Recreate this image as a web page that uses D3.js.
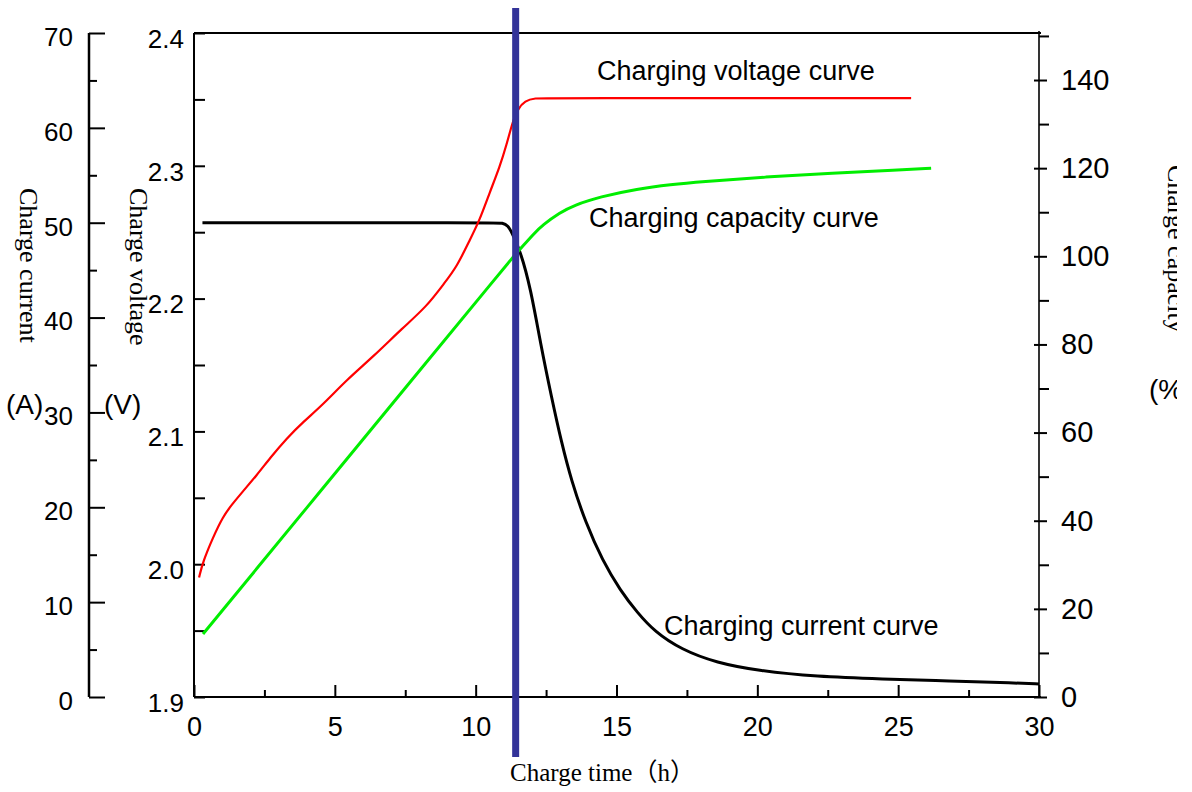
<!DOCTYPE html>
<html>
<head>
<meta charset="utf-8">
<script src="https://cdn.jsdelivr.net/npm/d3@7"></script>
<style>
  html, body { margin: 0; padding: 0; background: #fff; }
  svg { display: block; }
  .tick text { font-family: "Liberation Sans", Arial, sans-serif; fill: #000; }
</style>
</head>
<body>
<svg id="chart" width="1192" height="792"></svg>
<script>
// Dades llegides de la figura
const timeTicks = [0, 5, 10, 15, 20, 25, 30];
const timeMinor = [2.5, 7.5, 12.5, 17.5, 22.5, 27.5];
const currentTicks = [0, 10, 20, 30, 40, 50, 60, 70];
const currentMinor = [5, 15, 25, 35, 45, 55, 65];
const voltageTicks = [1.9, 2.0, 2.1, 2.2, 2.3, 2.4];
const voltageMinor = [1.95, 2.05, 2.15, 2.25, 2.35];
const capacityTicks = [0, 20, 40, 60, 80, 100, 120, 140];
const capacityMinor = [10, 30, 50, 70, 90, 110, 130, 150];

// [temps (h), tensió (V)]
const voltageCurve = [
  [0.18, 1.990], [0.32, 2.002], [0.67, 2.020], [1.03, 2.036], [1.35, 2.045],
  [1.70, 2.054], [2.23, 2.067], [2.70, 2.080], [3.30, 2.095], [3.87, 2.107],
  [4.57, 2.120], [5.43, 2.139], [6.35, 2.156], [7.41, 2.178], [8.26, 2.194],
  [8.90, 2.212], [9.33, 2.224], [9.79, 2.244], [10.14, 2.259], [10.50, 2.280],
  [10.85, 2.299], [11.10, 2.316], [11.31, 2.333], [11.50, 2.343], [11.75, 2.349],
  [12.10, 2.351], [12.60, 2.351], [25.46, 2.351]
];
// [temps (h), corrent (A)]
const currentCurve = [
  [0.30, 50], [10.70, 50], [10.95, 50], [11.15, 49.7], [11.28, 49.0], [11.59, 47.0],
  [11.95, 43.1], [12.30, 37.3], [12.70, 31.5], [13.05, 26.8], [13.40, 22.8],
  [13.90, 18.4], [14.50, 14.4], [15.14, 11.2], [15.74, 8.9], [16.35, 6.9],
  [17.30, 5.0], [18.55, 3.6], [20.07, 2.75], [22.09, 2.15], [24.43, 1.9],
  [26.81, 1.7], [29.18, 1.48], [30.0, 1.37]
];
// [temps (h), capacitat (%)]
const capacityCurve = [
  [0.32, 14.3], [4.00, 42.9], [7.73, 71.9], [11.00, 97.3], [11.31, 99.7], [11.67, 102.3],
  [12.06, 105.1], [12.38, 107.1], [12.98, 109.9], [13.50, 111.6], [14.40, 113.5],
  [15.74, 115.3], [16.95, 116.3], [17.94, 116.9], [20.30, 118.0], [22.66, 118.9],
  [25.00, 119.6], [26.17, 120.0]
];
const switchTime = 11.42; // línia vertical blava

const svg = d3.select("#chart");
const sans = '"Liberation Sans", Arial, sans-serif';
const serif = '"Liberation Serif", "Times New Roman", "Noto Sans CJK SC", serif';

const plotTop = 33, plotBottom = 697;
const x = d3.scaleLinear().domain([0, 30]).range([194, 1039]);
const yV = d3.scaleLinear().domain([1.9, 2.4]).range([plotBottom, plotTop]);
const yA = d3.scaleLinear().domain([0, 70]).range([plotBottom, plotTop]);
const yC = d3.scaleLinear().domain([0, 150]).range([plotBottom, plotBottom - 150 * 4.407]);

function styleAxis(g, size) {
  g.select(".domain").remove();
  g.selectAll(".tick line").attr("stroke", "#000").attr("stroke-width", 2);
  g.selectAll(".tick text").style("font-size", size + "px");
}

// Eix del corrent (esquerra)
const axA = svg.append("g").attr("transform", "translate(89,0)");
axA.append("g")
   .call(d3.axisLeft(yA).tickValues(currentMinor).tickSizeInner(-8).tickSizeOuter(0).tickFormat(""))
   .call(g => styleAxis(g, 26));
axA.append("g")
   .call(d3.axisLeft(yA).tickValues(currentTicks).tickSizeInner(-16).tickSizeOuter(0).tickPadding(16))
   .call(g => styleAxis(g, 26))
   .selectAll(".tick text").attr("transform", "translate(0,4)");
axA.append("line").attr("y1", plotTop).attr("y2", plotBottom).attr("stroke", "#000").attr("stroke-width", 2.5);

// Eix de la tensió
const axV = svg.append("g").attr("transform", "translate(194,0)");
axV.append("g")
   .call(d3.axisLeft(yV).tickValues(voltageMinor).tickSizeInner(-11).tickSizeOuter(0).tickFormat(""))
   .call(g => styleAxis(g, 26));
axV.append("g")
   .call(d3.axisLeft(yV).tickValues(voltageTicks).tickSizeInner(-11).tickSizeOuter(0).tickPadding(10).tickFormat(d3.format(".1f")))
   .call(g => styleAxis(g, 26))
   .selectAll(".tick text").attr("transform", "translate(0,6)");
axV.append("line").attr("y1", plotTop).attr("y2", plotBottom).attr("stroke", "#000").attr("stroke-width", 2);

// Eix del temps
const axT = svg.append("g").attr("transform", `translate(0,${plotBottom})`);
axT.append("g")
   .call(d3.axisBottom(x).tickValues(timeMinor).tickSizeInner(-7).tickSizeOuter(0).tickFormat(""))
   .call(g => styleAxis(g, 27));
axT.append("g")
   .call(d3.axisBottom(x).tickValues(timeTicks).tickSizeInner(-12).tickSizeOuter(0).tickPadding(20))
   .call(g => styleAxis(g, 27));
axT.append("line").attr("x1", x(0)).attr("x2", x(30) + 2).attr("stroke", "#000").attr("stroke-width", 2);

// Marc superior
svg.append("line").attr("x1", x(0)).attr("x2", x(30) + 2).attr("y1", plotTop).attr("y2", plotTop)
   .attr("stroke", "#000").attr("stroke-width", 2);

// Eix de la capacitat (dreta)
const axC = svg.append("g").attr("transform", `translate(${x(30)},0)`);
axC.append("g")
   .call(d3.axisRight(yC).tickValues(capacityMinor).tickSizeInner(10).tickSizeOuter(0).tickFormat(""))
   .call(g => styleAxis(g, 29));
axC.append("g")
   .call(d3.axisRight(yC).tickValues(capacityTicks).tickSizeInner(8).tickSizeOuter(0).tickPadding(14))
   .call(g => styleAxis(g, 29))
   .selectAll(".tick line").attr("x1", -5);
axC.append("line").attr("y1", plotTop - 2).attr("y2", plotBottom).attr("stroke", "#000").attr("stroke-width", 1.6);

// Corbes (suavitzades)
const curve = d3.curveBasis;
const lineV = d3.line().x(d => x(d[0])).y(d => yV(d[1])).curve(curve);
const lineA = d3.line().x(d => x(d[0])).y(d => yA(d[1])).curve(curve);
const lineC = d3.line().x(d => x(d[0])).y(d => yC(d[1])).curve(curve);

svg.append("path").datum(currentCurve).attr("d", lineA)
   .attr("fill", "none").attr("stroke", "#000").attr("stroke-width", 3);
svg.append("path").datum(capacityCurve).attr("d", lineC)
   .attr("fill", "none").attr("stroke", "#00ee00").attr("stroke-width", 3);
svg.append("path").datum(voltageCurve).attr("d", lineV)
   .attr("fill", "none").attr("stroke", "#ff0000").attr("stroke-width", 2.2);

// Línia vertical
svg.append("line")
   .attr("x1", x(switchTime)).attr("x2", x(switchTime))
   .attr("y1", 8).attr("y2", 757)
   .attr("stroke", "#333399").attr("stroke-width", 7);

// Etiquetes de les corbes
const labels = [
  { text: "Charging voltage curve", x: 597, y: 80 },
  { text: "Charging capacity curve", x: 589, y: 227 },
  { text: "Charging current curve", x: 664, y: 635 }
];
labels.forEach(l => {
  svg.append("text").attr("x", l.x).attr("y", l.y)
     .style("font-family", sans).style("font-size", "27px").text(l.text);
});

// Títols dels eixos
function vTitle(txt, bx, by) {
  svg.append("text")
     .attr("transform", `translate(${bx},${by}) rotate(90)`)
     .style("font-family", serif).style("font-size", "26px")
     .text(txt);
}
vTitle("Charge current", 20, 188);
vTitle("Charge voltage", 130, 188);
vTitle("Charge capacity", 1168, 165);

svg.append("text").attr("x", 6).attr("y", 414)
   .style("font-family", sans).style("font-size", "28px").text("(A)");
svg.append("text").attr("x", 104).attr("y", 414)
   .style("font-family", sans).style("font-size", "28px").text("(V)");
svg.append("text").attr("x", 1149).attr("y", 399)
   .style("font-family", sans).style("font-size", "28px").text("(%)");

svg.append("text").attr("x", 510).attr("y", 781)
   .style("font-family", serif).style("font-size", "25px").text("Charge time（h）");

// Retall a la dreta com a l'original
svg.append("rect").attr("x", 1177).attr("y", 0).attr("width", 15).attr("height", 792).attr("fill", "#fff");
</script>
</body>
</html>
